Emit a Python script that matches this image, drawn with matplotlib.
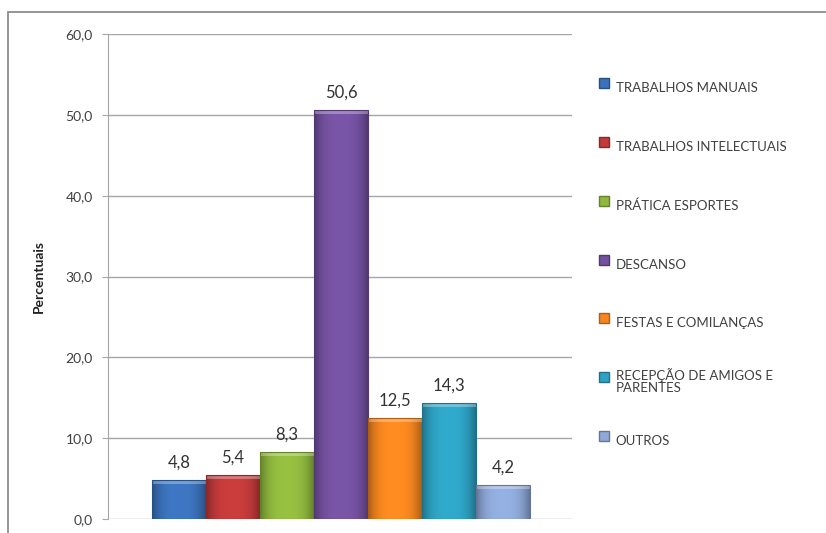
import numpy as np
import matplotlib
matplotlib.use("Agg")
import matplotlib.pyplot as plt
from matplotlib.ticker import FuncFormatter
from matplotlib.patches import Rectangle
from matplotlib.lines import Line2D
from matplotlib.colors import to_rgb

# data
categorias = ["TRABALHOS MANUAIS", "TRABALHOS INTELECTUAIS", "PRÁTICA ESPORTES",
              "DESCANSO", "FESTAS E COMILANÇAS", "RECEPÇÃO DE AMIGOS E\nPARENTES", "OUTROS"]
valores = [4.8, 5.4, 8.3, 50.6, 12.5, 14.3, 4.2]
cores = ["#3b72bb", "#c23a3a", "#8fb83e", "#7451a0", "#f5861f", "#2ea2c3", "#8ea8d9"]
yticks = [0, 10, 20, 30, 40, 50, 60]

plt.rcParams['font.family'] = ['Lato', 'DejaVu Sans']

fig = plt.figure(figsize=(8.26, 5.33), dpi=100)
ax = fig.add_axes([108/826, 1 - 519/533, 464/826, 485/533])

def fmt(v, pos=None):
    return f"{v:.1f}".replace(".", ",")

x = np.arange(len(valores))
bars = ax.bar(x, valores, width=1.0, color=cores, edgecolor="none", zorder=3)

# shading like the old excel bars (darker at the sides)
grad = np.abs(np.linspace(-1, 1, 64))
for b, c in zip(bars, cores):
    base = np.array(to_rgb(c))
    shade = 1.05 - 0.35 * grad**3
    img = np.clip(base[None, :] * shade[:, None], 0, 1)[None, :, :]
    x0, w, h = b.get_x(), b.get_width(), b.get_height()
    im = ax.imshow(img, extent=[x0, x0 + w, 0, h], aspect="auto", zorder=3.5,
                   interpolation="bilinear")
    im.set_clip_path(b)
    ax.add_patch(Rectangle((x0, h - 0.5), w, 0.5, color="white", alpha=0.3, lw=0, zorder=4))
    ax.add_patch(Rectangle((x0, 0), w, h, fill=False, ec=base * 0.7, lw=0.8, zorder=4))
    ax.text(x0 + w/2, h + 1.2, fmt(h), ha="center", va="bottom", fontsize=12, color="#333333")

ax.set_xlim(-0.5 - 44/54, 6.5 + 42/54)
ax.set_ylim(0, 60)
ax.set_yticks(yticks)
ax.yaxis.set_major_formatter(FuncFormatter(fmt))
ax.set_xticks([])
ax.grid(axis="y", color="#a6a6a6", lw=1, zorder=0)
for s in ["top", "right", "bottom"]:
    ax.spines[s].set_visible(False)
ax.spines["left"].set_color("#a6a6a6")
ax.tick_params(axis="y", length=4, color="#a6a6a6", labelsize=10, labelcolor="#404040", pad=7)
ax.set_ylabel("Percentuais", fontsize=10, fontweight="bold", color="#222222")
ax.yaxis.set_label_coords(-0.136, 0.5)

# legend: tall handles so every row has the same height (like excel)
handles = [Line2D([], [], ls="none", marker="s", markersize=6.5, color=c,
                  markeredgecolor=np.array(to_rgb(c)) * 0.7) for c in cores]
leg = ax.legend(handles, categorias, loc="upper left", bbox_to_anchor=(598/826, 1 - 74/533),
                bbox_transform=fig.transFigure, frameon=False, fontsize=9.5,
                labelspacing=2.26, handlelength=0.9, handleheight=3.0, handletextpad=0.45,
                borderpad=0, borderaxespad=0)
for t in leg.get_texts():
    t.set_color("#404040")
    t.set_linespacing(1.05)

# outer chart frame
fig.patches.append(Rectangle((8/826, -0.1), 1.2, 1 - 12/533 + 0.1, transform=fig.transFigure,
                             fill=False, ec="#8c8c8c", lw=1.3))

fig.savefig("out.png", dpi=100)
